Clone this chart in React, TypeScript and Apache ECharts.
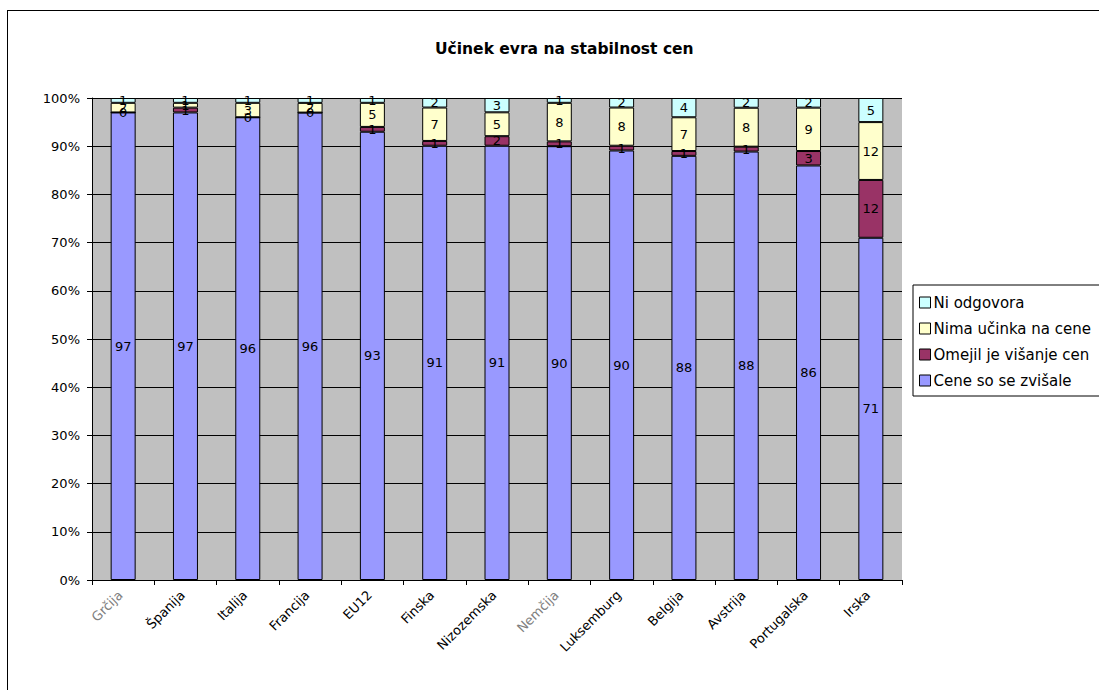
import React, { useEffect, useRef } from "react";
import * as echarts from "echarts";

const categories = ["Grčija", "Španija", "Italija", "Francija", "EU12", "Finska", "Nizozemska", "Nemčija", "Luksemburg", "Belgija", "Avstrija", "Portugalska", "Irska"];
const grayCategories = ["Grčija", "Nemčija"];
const seriesNames = ["Cene so se zvišale", "Omejil je višanje cen", "Nima učinka na cene", "Ni odgovora"];
const pricesRose = [97, 97, 96, 96, 93, 91, 91, 90, 90, 88, 88, 86, 71];
const limitedRise = [0, 1, 0, 0, 1, 1, 2, 1, 1, 1, 1, 3, 12];
const noEffect = [2, 1, 3, 2, 5, 7, 5, 8, 8, 7, 8, 9, 12];
const noAnswer = [1, 1, 1, 1, 1, 2, 3, 1, 2, 4, 2, 2, 5];
const colors = ["#9999FF", "#993366", "#FFFFCC", "#CCFFFF"];
const yTicks = [0, 10, 20, 30, 40, 50, 60, 70, 80, 90, 100];

const FONT = "DejaVu Sans";

export default function App() {
  const ref = useRef<HTMLDivElement>(null);
  useEffect(() => {
    if (!ref.current) return;
    const chart = echarts.init(ref.current, undefined, { renderer: "svg" });
    const raw = [pricesRose, limitedRise, noEffect, noAnswer];
    const totals = categories.map((_, i) => raw.reduce((s, arr) => s + arr[i], 0));
    const series = raw.map((arr, si) => ({
      name: seriesNames[si],
      type: "bar",
      stack: "total",
      barWidth: 25,
      itemStyle: { color: colors[si], borderColor: "#000", borderWidth: 1 },
      label: {
        show: true,
        position: "inside",
        color: "#000",
        fontFamily: FONT,
        fontSize: 13,
        formatter: (p: any) => String(arr[p.dataIndex]),
      },
      data: arr.map((v, i) => (v / totals[i]) * 100),
    }));
    chart.setOption({
      animation: false,
      backgroundColor: "#fff",
      title: {
        text: "Učinek evra na stabilnost cen",
        left: 422,
        top: 25,
        textStyle: { fontFamily: FONT, fontSize: 15.5, fontWeight: "bold", color: "#000" },
      },
      legend: {
        orient: "vertical",
        left: 905,
        top: 274,
        data: [...seriesNames].reverse(),
        itemWidth: 11,
        itemHeight: 11,
        itemGap: 11,
        icon: "rect",
        padding: [10, 20, 8, 6],
        borderColor: "#000",
        borderWidth: 1,
        backgroundColor: "#fff",
        itemStyle: { borderColor: "#000", borderWidth: 1 },
        textStyle: { fontFamily: FONT, fontSize: 15, color: "#000", lineHeight: 14, padding: [0, 0, 0, -2] },
      },
      grid: { left: 84, top: 87, width: 810, height: 482, containLabel: false, show: true, backgroundColor: "#C0C0C0", borderWidth: 0 },
      xAxis: {
        type: "category",
        data: categories.map((c) => ({ value: c, textStyle: { color: grayCategories.includes(c) ? "#808080" : "#000" } })),
        axisLine: { lineStyle: { color: "#000", width: 1 } },
        axisTick: { show: true, length: 5, lineStyle: { color: "#000" } },
        axisLabel: { rotate: 45, margin: 10, fontFamily: FONT, fontSize: 13, color: "#000", interval: 0, padding: [0, 4, 0, 0] },
      },
      yAxis: {
        type: "value",
        min: yTicks[0],
        max: yTicks[yTicks.length - 1],
        interval: 10,
        axisLine: { show: true, lineStyle: { color: "#000", width: 1 } },
        axisTick: { show: true, length: 5, lineStyle: { color: "#000" } },
        axisLabel: { formatter: "{value}%", margin: 12, fontFamily: FONT, fontSize: 13, color: "#000" },
        splitLine: { show: true, lineStyle: { color: "#000", width: 1 } },
      },
      series,
    });
    return () => chart.dispose();
  }, []);
  return (
    <div
      style={{
        position: "absolute",
        left: 7,
        top: 10,
        width: 1092,
        height: 680,
        borderLeft: "1px solid #000",
        borderTop: "1px solid #000",
        boxSizing: "border-box",
      }}
    >
      <div ref={ref} style={{ width: 1091, height: 679 }} />
    </div>
  );
}
